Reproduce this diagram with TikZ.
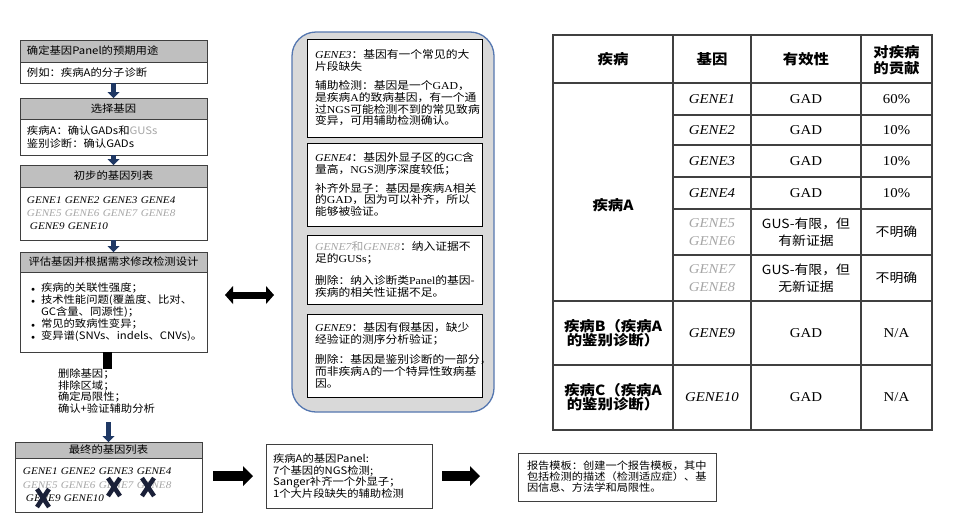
\documentclass[tikz,border=0pt]{standalone}
\usepackage{fontspec}
\setmainfont{Noto Sans CJK SC}[FakeStretch=1.1]
\newfontfamily\serfam{Liberation Serif}[FakeStretch=1.1]
\usetikzlibrary{arrows.meta,calc}
\definecolor{hdrgray}{HTML}{BFBFBF}
\definecolor{bordc}{HTML}{3F3F3F}
\definecolor{gtxt}{HTML}{A6A6A6}
\definecolor{navy}{HTML}{1F3864}
\definecolor{xnavy}{HTML}{1A2038}
\definecolor{panelfill}{HTML}{D9D9D9}
\definecolor{panelline}{HTML}{5577B0}
\definecolor{tabline}{HTML}{404040}
\newcommand\fLeft{\fontsize{10.3}{13}\selectfont}
\newcommand\fMid{\fontsize{10.7}{11.8}\selectfont}
\newcommand\lat[1]{{\serfam #1}}
\newcommand\gn[1]{{\serfam\itshape #1}}
\begin{document}
\begin{tikzpicture}[x=1pt,y=-1pt,
  every node/.style={inner sep=0pt, outer sep=0pt},
  lhdr/.style={draw=bordc, line width=0.8pt, fill=hdrgray, anchor=north west, inner xsep=7pt, inner ysep=0pt, text width=173pt, align=center, font=\fLeft},
  lbody/.style={draw=bordc, line width=0.8pt, fill=white, anchor=north west, inner xsep=7pt, inner ysep=0pt, text width=173pt, align=left, font=\fLeft},
  mbox/.style={draw=black, line width=0.8pt, fill=white, anchor=north west, inner xsep=8pt, inner ysep=0pt, text width=159pt, align=left, font=\fMid},
  barrow/.style={draw=navy, line width=5pt, -{Triangle[width=12pt,length=6pt,line width=0pt]}},
  bigarrow/.style={draw=black, line width=10pt, -{Triangle[width=20pt,length=10pt,line width=0pt]}},
  dblarrow/.style={draw=black, line width=7pt, {Triangle[width=18pt,length=8pt,line width=0pt]}-{Triangle[width=18pt,length=8pt,line width=0pt]}},
  xm/.style={draw=xnavy, line width=4.5pt},
  thb/.style={font=\fontsize{14}{16}\selectfont\bfseries, align=center},
  tbb/.style={font=\fontsize{14}{14.5}\selectfont\bfseries, align=center},
  tgn/.style={font=\serfam\itshape\fontsize{13.5}{18}\selectfont, align=center},
  tsr/.style={font=\serfam\fontsize{13.5}{16}\selectfont, align=center},
  tss/.style={font=\fontsize{12.6}{17}\selectfont, align=center},
  smallbox/.style={draw=bordc, line width=0.8pt, fill=white, anchor=north west, inner ysep=0pt, align=left}
]
\useasboundingbox (0,0) rectangle (964,517);
\fill[white] (0,0) rectangle (964,517);

% ---------------- left column ----------------
\node[lhdr, align=left, minimum height=22pt] (h1) at (20,40) {确定基因Panel的预期用途};
\node[lbody, minimum height=21pt] (b1) at (20,62) {例如：疾病A的分子诊断};

\node[lhdr, minimum height=21pt] (h2) at (20,98) {选择基因};
\node[lbody, minimum height=36pt] (b2) at (20,119) {疾病A：确认GADs和{\color{gtxt}GUSs}\\鉴别诊断：确认GADs};

\node[lhdr, minimum height=22pt] (h3) at (20,165) {初步的基因列表};
\node[lbody, minimum height=53pt, font=\serfam\itshape\fontsize{10.1}{13}\selectfont] (b3) at (20,187)
  {GENE1 GENE2 GENE3 GENE4\\{\color{gtxt}GENE5 GENE6 GENE7 GENE8}\\\hspace*{3pt}GENE9 GENE10};

\node[lhdr, minimum height=20pt] (h4) at (20,252) {评估基因并根据需求修改检测设计};
\node[lbody, inner xsep=11pt, text width=165pt, minimum height=80pt, font=\fontsize{10.3}{12}\selectfont] (b4) at (20,272)
  {\makebox[10pt][l]{\fontsize{7}{7}\selectfont$\bullet$}疾病的关联性强度；\\
   \makebox[10pt][l]{\fontsize{7}{7}\selectfont$\bullet$}技术性能问题(覆盖度、比对、\\
   \hspace*{10pt}GC含量、同源性)；\\
   \makebox[10pt][l]{\fontsize{7}{7}\selectfont$\bullet$}常见的致病性变异；\\
   \makebox[10pt][l]{\fontsize{7}{7}\selectfont$\bullet$}变异谱(SNVs、indels、CNVs)。};

\node[anchor=north west, align=left, font=\fontsize{10.3}{11.5}\selectfont] (del) at (58,369)
  {删除基因；\\排除区域；\\确定局限性；\\确认+验证辅助分析};

\node[lhdr, minimum height=16pt] (h5) at (15,442) {最终的基因列表};
\node[lbody, inner xsep=8pt, text width=171pt, minimum height=54pt, font=\serfam\itshape\fontsize{10.1}{13.5}\selectfont] (b5) at (15,458)
  {GENE1 GENE2 GENE3 GENE4\\{\color{gtxt}GENE5 GENE6 GENE7 GENE8}\\\hspace*{3pt}GENE9 GENE10};

\foreach \xx/\yy in {114/487,148/487,43/498}{
  \draw[xm] (\xx-6,\yy-9) -- (\xx+6,\yy+9) (\xx-6,\yy+9) -- (\xx+6,\yy-9);
}

\draw[barrow] (b1.south) -- (h2.north);
\draw[barrow] (b2.south) -- (h3.north);
\draw[barrow] (b3.south) -- (h4.north);
\coordinate (barx) at (107,0);
\draw[draw=black, line width=9pt] (b4.south -| barx) -- (del.north -| barx);
\draw[barrow, shorten <=9pt] (del.south -| h5.north) -- (h5.north);

% ---------------- middle panel ----------------
\node[draw=panelline, line width=1.3pt, fill=panelfill, rounded corners=24pt, anchor=north west,
      minimum width=202pt, minimum height=380pt] (panel) at (292,32) {};

\node[mbox, minimum height=98pt] (ma) at (307,39)
  {\gn{GENE3}：基因有一个常见的大\\片段缺失\\[7pt]
   辅助检测：基因是一个\lat{GAD}，\\是疾病\lat{A}的致病基因，有一个通\\过\lat{NGS}可能检测不到的常见致病\\变异，可用辅助检测确认。};
\node[mbox, minimum height=83pt] (mb) at (307,143)
  {\gn{GENE4}：基因外显子区的\lat{GC}含\\量高，\lat{NGS}测序深度较低；\\[7pt]
   补齐外显子：基因是疾病\lat{A}相关\\的\lat{GAD}，因为可以补齐，所以\\能够被验证。};
\node[mbox, minimum height=69pt] (mc) at (307,235)
  {{\color{gtxt}\gn{GENE7}和\gn{GENE8}}：纳入证据不\\足的\lat{GUSs}；\\[10pt]
   \mbox{删除：纳入诊断类\lat{Panel}的基因-}\\疾病的相关性证据不足。};
\node[mbox, minimum height=83pt] (md) at (307,314)
  {\gn{GENE9}：基因有假基因，缺少\\经验证的测序分析验证；\\[8pt]
   删除：基因是鉴别诊断的一部分，\\而非疾病\lat{A}的一个特异性致病基\\因。};

\coordinate (dy) at (0,295);
\draw[dblarrow, shorten <=18pt, shorten >=18pt] (b4.east |- dy) -- (panel.west |- dy);

% ---------------- table ----------------
\begin{scope}[draw=tabline, line width=1.4pt]
  \draw (553,35) rectangle (932,430);
  \draw (673,35) -- (673,430) (751,35) -- (751,430) (861,35) -- (861,430);
  \draw (553,83) -- (932,83);
  \foreach \yy in {115,145,177,209,255}{ \draw (673,\yy) -- (932,\yy); }
  \draw (553,301) -- (932,301) (553,365) -- (932,365);
\end{scope}

\node[thb] (th1) at (613,59) {疾病};
\node[thb] (th2) at (712,59) {基因};
\node[thb] (th3) at (806,59) {有效性};
\node[thb] (th4) at (896.5,60) {对疾病\\的贡献};

\node[thb] (dA) at (613,205) {疾病A};
\node[tbb] (dB) at (613,333) {疾病B（疾病A\\的鉴别诊断）};
\node[tbb] (dC) at (613,397) {疾病C（疾病A\\的鉴别诊断）};

\node[tgn] (g1) at (712,99) {GENE1};
\node[tgn] (g2) at (712,130) {GENE2};
\node[tgn] (g3) at (712,161) {GENE3};
\node[tgn] (g4) at (712,193) {GENE4};
\node[tgn, text=gtxt] (g56) at (712,232) {GENE5\\GENE6};
\node[tgn, text=gtxt] (g78) at (712,278) {GENE7\\GENE8};
\node[tgn] (g9) at (712,333) {GENE9};
\node[tgn] (g10) at (712,397) {GENE10};

\node[tsr] (v1) at (806,99) {GAD};
\node[tsr] (v2) at (806,130) {GAD};
\node[tsr] (v3) at (806,161) {GAD};
\node[tsr] (v4) at (806,193) {GAD};
\node[tss] (v56) at (806,232) {GUS-有限，但\\有新证据};
\node[tss] (v78) at (806,278) {GUS-有限，但\\无新证据};
\node[tsr] (v9) at (806,333) {GAD};
\node[tsr] (v10) at (806,397) {GAD};

\node[tsr] (c1) at (896.5,99) {60\%};
\node[tsr] (c2) at (896.5,130) {10\%};
\node[tsr] (c3) at (896.5,161) {10\%};
\node[tsr] (c4) at (896.5,193) {10\%};
\node[tss] (c56) at (896.5,232) {不明确};
\node[tss] (c78) at (896.5,278) {不明确};
\node[tsr] (c9) at (896.5,333) {N/A};
\node[tsr] (c10) at (896.5,397) {N/A};

% ---------------- bottom row ----------------
\node[smallbox, inner xsep=7pt, text width=152pt, minimum height=64pt, font=\fontsize{10.3}{11.6}\selectfont] (pbox) at (266,444)
  {疾病A的基因Panel:\\7个基因的NGS检测;\\Sanger补齐一个外显子；\\1个大片段缺失的辅助检测};
\node[smallbox, inner xsep=9pt, text width=180pt, minimum height=48pt, font=\fontsize{10.2}{11}\selectfont] (rbox) at (518,453)
  {报告模板：创建一个报告模板，其中\\包括检测的描述（检测适应症）、基\\因信息、方法学和局限性。};

\draw[bigarrow, shorten <=11pt, shorten >=13pt] (b5.east |- pbox.west) -- (pbox.west);
\draw[bigarrow, shorten <=10pt, shorten >=38pt] (pbox.east) -- (rbox.west |- pbox.east);
\end{tikzpicture}
\end{document}
